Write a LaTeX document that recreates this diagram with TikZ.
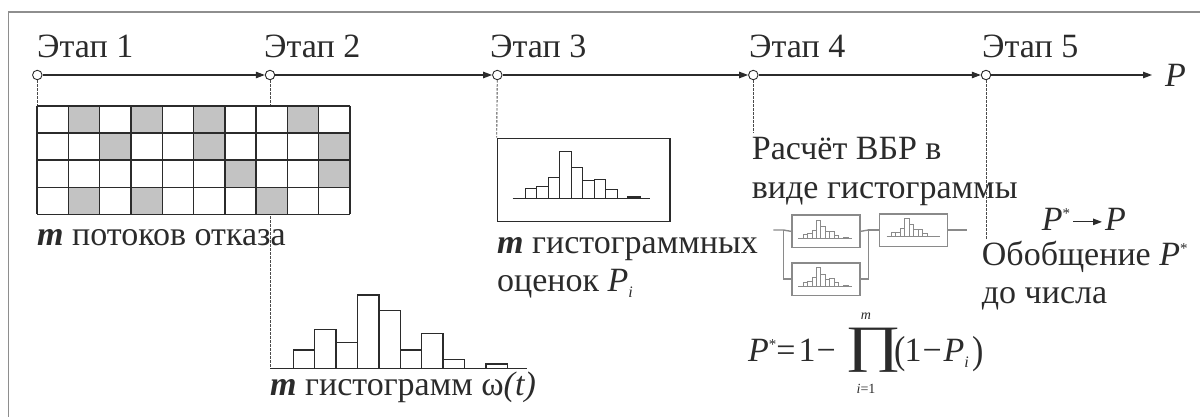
\documentclass[tikz,border=0pt]{standalone}
\usepackage{fontspec}
\setmainfont{Liberation Serif}
\usetikzlibrary{arrows.meta,calc}
\definecolor{ink}{HTML}{2B2B2B}
\definecolor{cellgray}{HTML}{C3C3C3}
\definecolor{rbdgray}{HTML}{8A8A8A}
\definecolor{framegray}{HTML}{8E8E8E}

% one histogram drawn in local units (baseline from 0 to 137.4)
\tikzset{pics/hist/.style={code={
  \draw[pic actions] (0,0) -- (137.4,0);
  \foreach \h [count=\k from 0] in {10,11.7,21,46.7,31,17.7,18.7,8.7}
    \draw[pic actions] (12.4+11.5*\k,0) rectangle ++(11.5,-\h);
  \draw[pic actions] (115,0) rectangle (127.7,-1.3);
}}}
\newcommand{\starsup}{\raisebox{12pt}{\fontsize{15}{15}\selectfont*}}

\begin{document}
\begin{tikzpicture}[x=1pt,y=-1pt,
  every node/.style={inner sep=0pt, text=ink, font=\fontsize{34}{40}\selectfont},
  lbl/.style={anchor=base west},
  small/.style={font=\fontsize{14}{14}\selectfont},
  stage/.style={circle, draw=ink, fill=white, line width=0.9pt, minimum size=9.5pt},
  axisline/.style={draw=ink, line width=1.1pt, -{Triangle[length=9pt,width=6.5pt]}},
  drop/.style={draw=ink!85, line width=0.9pt, dash pattern=on 2.5pt off 1.5pt},
  barline/.style={draw=ink, line width=1.3pt},
  rbd/.style={draw=rbdgray, line width=1.4pt},
  rbdbox/.style={rectangle, draw=rbdgray, line width=1.5pt, minimum width=68pt, minimum height=32.5pt},
  mini/.style={draw=rbdgray, line width=0.8pt, scale=0.39},
]
\useasboundingbox (0,0) rectangle (1200,417);

% frame
\draw[framegray, line width=1.2pt] (1200,12) -- (8.3,12) -- (8.3,417);

% stages on the axis
\node[stage] (s1) at (37.3,75) {};
\node[stage] (s2) at (270,75) {};
\node[stage] (s3) at (497.3,75) {};
\node[stage] (s4) at (753.3,75) {};
\node[stage] (s5) at (986,75) {};
\coordinate (pend) at (1152,75);

\node[lbl] (l1) at (37,58) {Этап 1};
\node[lbl] (l2) at (264,58) {Этап 2};
\node[lbl] (l3) at (490,58) {Этап 3};
\node[lbl] (l4) at (749,58) {Этап 4};
\node[lbl] (l5) at (982,58) {Этап 5};
\node[lbl] (paxis) at (1165,86.7) {\itshape P};

\draw[axisline] (s1) -- (s2);
\draw[axisline] (s2) -- (s3);
\draw[axisline] (s3) -- (s4);
\draw[axisline] (s4) -- (s5);
\draw[axisline] (s5) -- (pend);

% stage 1: failure flows grid
\coordinate (gtop) at (37.3,106);
\coordinate (h2base) at (270,368.3);
\coordinate (h2end) at (526.7,368.3);
\draw[drop] (s1) -- (gtop);
\draw[drop] (s2) -- (h2base);

\fill[white] (37,106) rectangle (350,214.3);
\foreach \c/\r in {1/0,3/0,5/0,8/0,2/1,5/1,9/1,6/2,9/2,1/3,3/3,7/3}
  \fill[cellgray] (37+31.3*\c,106+27.075*\r) rectangle ++(31.3,27.075);
\foreach \c in {0,...,10}
  \draw[ink, line width=1.4pt] (37+31.3*\c,106) -- (37+31.3*\c,214.3);
\foreach \r in {0,...,4}
  \draw[ink, line width=1.4pt] (37,106+27.075*\r) -- (350,106+27.075*\r);

\node[lbl] (t1) at (37,245) {{\bfseries\itshape m} потоков отказа};

% stage 2: failure-rate histogram
\draw[barline] (h2base) -- (h2end);
\foreach \h [count=\k from 0] in {18.3,39,25.6,73.3,57.6,18.3,35,9}
  \draw[barline] (293.3+21.4*\k,368.3) rectangle ++(21.4,-\h);
\draw[barline] (485.9,368.3) rectangle ++(21.4,-4.3);
\node[lbl] (t2) at (270,395) {{\bfseries\itshape m} гистограмм ω{\itshape (t)}};

% stage 3: histogram estimate
\node[rectangle, draw=ink, line width=1.2pt, minimum width=172.7pt, minimum height=83.4pt]
  (h3box) at (583.65,180) {};
\draw[drop] (s3) -- (h3box.north west);
\pic[draw=ink, line width=1.2pt] at ($(h3box.south west)+(16,-24)$) {hist};
\node[lbl] (t3a) at (497,253) {{\bfseries\itshape m} гистограммных};
\node[lbl] (t3b) at (497,291) {оценок {\itshape P}\raisebox{-6pt}{\fontsize{16}{16}\selectfont\itshape i}};

% stage 4: reliability block diagram
\coordinate (d4) at (753.3,133);
\draw[drop] (s4) -- (d4);
\node[lbl] (t4a) at (751.7,159.3) {Расчёт ВБР в};
\node[lbl] (t4b) at (751.7,198) {виде гистограммы};

\node[rbdbox] (b1) at (825.85,231.35) {};
\node[rbdbox] (b2) at (825.85,279) {};
\node[rbdbox] (b3) at (913.3,230) {};
\coordinate (rin) at (773.3,230);
\coordinate (rout) at (966.7,230);
\coordinate (jl) at (783.3,230);
\coordinate (jr) at (868.3,230);
\draw[rbd] (rin) -- (jl) -- (b1.west);
\draw[rbd] (jl) |- (b2.west);
\draw[rbd] (b1.east) -- (jr);
\draw[rbd] (b2.east) -| (jr);
\draw[rbd] (jr) -- (b3.west);
\draw[rbd] (b3.east) -- (rout);
\pic[mini] at ($(b1.south west)+(7,-10)$) {hist};
\pic[mini] at ($(b2.south west)+(7,-10)$) {hist};
\pic[mini] at ($(b3.south west)+(8,-10.5)$) {hist};

% formula
\node[lbl] (fa) at (748,361.7) {{\itshape P}\starsup\kern0pt=\kern3pt1\kern1pt−};
\node[lbl] (fprod) at (845,361.7) {\scalebox{2.0}[1.5]{∏}};
\node[small] (fup) at (866,316) {\itshape m};
\node[small] (fdn) at (866,389) {{\itshape i}=1};
\node[lbl] (fb) at (894,361.7) {\raisebox{-2pt}{\scalebox{1}[1.15]{(}}\kern-1pt1\kern1pt−\kern2pt{\itshape P}\raisebox{-6pt}{\fontsize{16}{16}\selectfont\itshape i}\kern4pt\raisebox{-2pt}{\scalebox{1}[1.15]{)}}};

% stage 5: generalisation
\coordinate (d5) at (986,240);
\draw[drop] (s5) -- (d5);
\node[lbl] (pa) at (1041.7,230) {{\itshape P}\starsup};
\node[lbl] (pb) at (1105,230) {\itshape P};
\draw[draw=ink, line width=1.1pt, -{Triangle[length=9pt,width=6.5pt]}, shorten <=3pt, shorten >=3pt]
  ([yshift=-3pt]pa.east |- pb.west) -- ([yshift=-3pt]pb.west);
\node[lbl] (t5a) at (981.7,265) {Обобщение {\itshape P}\starsup};
\node[lbl] (t5b) at (981.7,303.3) {до числа};
\end{tikzpicture}
\end{document}
